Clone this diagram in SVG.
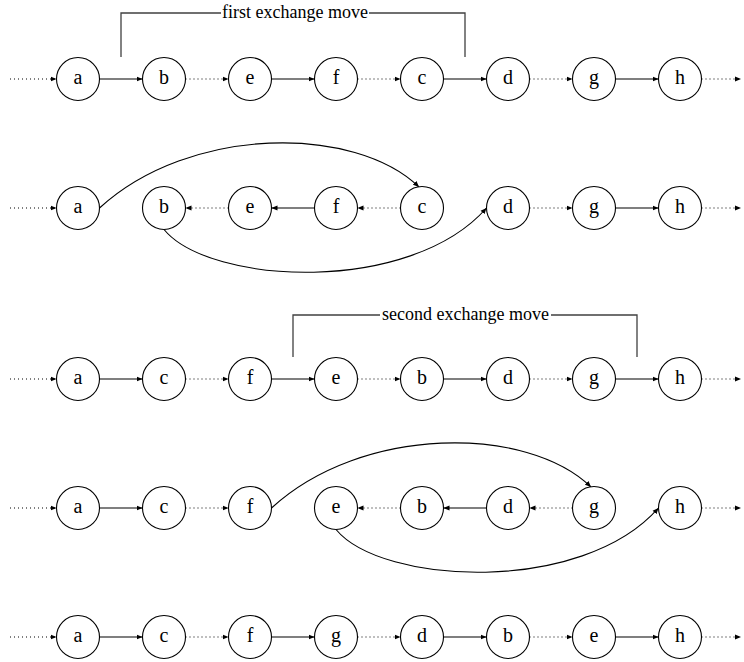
<svg xmlns="http://www.w3.org/2000/svg" width="744" height="662" viewBox="0 0 744 662">
<style>
.nd circle{fill:#fff;stroke:#000;stroke-width:1.1}
.nd text{font-family:"Liberation Serif","Times New Roman",serif;font-size:20px;text-anchor:middle;fill:#000}
.s{fill:none;stroke:#000;stroke-width:1.2;marker-end:url(#ah)}
.d{fill:none;stroke:#000;stroke-width:1.1;stroke-dasharray:1 3;marker-end:url(#ah)}
.c{fill:none;stroke:#000;stroke-width:1.1;marker-end:url(#ah)}
.br{fill:none;stroke:#404040;stroke-width:1.3}
.bt{font-family:"Liberation Serif","Times New Roman",serif;font-size:18px;text-anchor:middle;fill:#000}
</style>
<defs>
<marker id="ah" viewBox="0 0 7 6" refX="7" refY="3" markerWidth="6" markerHeight="6" markerUnits="userSpaceOnUse" orient="auto">
<path d="M0,0 L7,3 L0,6 z" fill="#000"/>
</marker>
</defs>
<rect width="744" height="662" fill="#fff"/>
<g id="brackets">
<path class="br" d="M121,57 V13 H221 M369,13 H465 V57"/>
<text class="bt" x="295" y="18">first exchange move</text>
<path class="br" d="M293,357 V315 H380 M551,315 H637 V357"/>
<text class="bt" x="465.5" y="320">second exchange move</text>
</g>
<g id="connectors">
<!-- row 1 -->
<path class="d" d="M10,79 H56.5"/>
<path class="s" d="M99.5,79 H142.5"/>
<path class="d" d="M185.5,79 H228.5"/>
<path class="s" d="M271.5,79 H314.5"/>
<path class="d" d="M357.5,79 H400.5"/>
<path class="s" d="M443.5,79 H486.5"/>
<path class="d" d="M529.5,79 H572.5"/>
<path class="s" d="M615.5,79 H658.5"/>
<path class="d" d="M701.5,79 H741"/>
<!-- row 2 -->
<path class="d" d="M10,208 H56.5"/>
<path class="d" d="M228.5,208 H185.5"/>
<path class="s" d="M314.5,208 H271.5"/>
<path class="d" d="M400.5,208 H357.5"/>
<path class="d" d="M529.5,208 H572.5"/>
<path class="s" d="M615.5,208 H658.5"/>
<path class="d" d="M701.5,208 H741"/>
<path class="c" d="M99.5,208 C190,125 355,125 419,187"/>
<path class="c" d="M164,229.5 C210,285 410,295 486.5,208"/>
<!-- row 3 -->
<path class="d" d="M10,379 H56.5"/>
<path class="s" d="M99.5,379 H142.5"/>
<path class="d" d="M185.5,379 H228.5"/>
<path class="s" d="M271.5,379 H314.5"/>
<path class="d" d="M357.5,379 H400.5"/>
<path class="s" d="M443.5,379 H486.5"/>
<path class="d" d="M529.5,379 H572.5"/>
<path class="s" d="M615.5,379 H658.5"/>
<path class="d" d="M701.5,379 H741"/>
<!-- row 4 -->
<path class="d" d="M10,508 H56.5"/>
<path class="s" d="M99.5,508 H142.5"/>
<path class="d" d="M185.5,508 H228.5"/>
<path class="d" d="M400.5,508 H357.5"/>
<path class="s" d="M486.5,508 H443.5"/>
<path class="d" d="M572.5,508 H529.5"/>
<path class="d" d="M701.5,508 H741"/>
<path class="c" d="M271.5,508 C362,425 527,425 591,487"/>
<path class="c" d="M336,529.5 C382,585 582,595 658.5,508"/>
<!-- row 5 -->
<path class="d" d="M10,637 H56.5"/>
<path class="s" d="M99.5,637 H142.5"/>
<path class="d" d="M185.5,637 H228.5"/>
<path class="s" d="M271.5,637 H314.5"/>
<path class="d" d="M357.5,637 H400.5"/>
<path class="s" d="M443.5,637 H486.5"/>
<path class="d" d="M529.5,637 H572.5"/>
<path class="s" d="M615.5,637 H658.5"/>
<path class="d" d="M701.5,637 H741"/>
</g>
<g id="row1">
<g id="r1-a" class="nd"><circle cx="78" cy="79" r="21.5"/><text x="78" y="84">a</text></g>
<g id="r1-b" class="nd"><circle cx="164" cy="79" r="21.5"/><text x="164" y="84">b</text></g>
<g id="r1-e" class="nd"><circle cx="250" cy="79" r="21.5"/><text x="250" y="84">e</text></g>
<g id="r1-f" class="nd"><circle cx="336" cy="79" r="21.5"/><text x="336" y="84">f</text></g>
<g id="r1-c" class="nd"><circle cx="422" cy="79" r="21.5"/><text x="422" y="84">c</text></g>
<g id="r1-d" class="nd"><circle cx="508" cy="79" r="21.5"/><text x="508" y="84">d</text></g>
<g id="r1-g" class="nd"><circle cx="594" cy="79" r="21.5"/><text x="594" y="84">g</text></g>
<g id="r1-h" class="nd"><circle cx="680" cy="79" r="21.5"/><text x="680" y="84">h</text></g>
</g>
<g id="row2">
<g id="r2-a" class="nd"><circle cx="78" cy="208" r="21.5"/><text x="78" y="213">a</text></g>
<g id="r2-b" class="nd"><circle cx="164" cy="208" r="21.5"/><text x="164" y="213">b</text></g>
<g id="r2-e" class="nd"><circle cx="250" cy="208" r="21.5"/><text x="250" y="213">e</text></g>
<g id="r2-f" class="nd"><circle cx="336" cy="208" r="21.5"/><text x="336" y="213">f</text></g>
<g id="r2-c" class="nd"><circle cx="422" cy="208" r="21.5"/><text x="422" y="213">c</text></g>
<g id="r2-d" class="nd"><circle cx="508" cy="208" r="21.5"/><text x="508" y="213">d</text></g>
<g id="r2-g" class="nd"><circle cx="594" cy="208" r="21.5"/><text x="594" y="213">g</text></g>
<g id="r2-h" class="nd"><circle cx="680" cy="208" r="21.5"/><text x="680" y="213">h</text></g>
</g>
<g id="row3">
<g id="r3-a" class="nd"><circle cx="78" cy="379" r="21.5"/><text x="78" y="384">a</text></g>
<g id="r3-c" class="nd"><circle cx="164" cy="379" r="21.5"/><text x="164" y="384">c</text></g>
<g id="r3-f" class="nd"><circle cx="250" cy="379" r="21.5"/><text x="250" y="384">f</text></g>
<g id="r3-e" class="nd"><circle cx="336" cy="379" r="21.5"/><text x="336" y="384">e</text></g>
<g id="r3-b" class="nd"><circle cx="422" cy="379" r="21.5"/><text x="422" y="384">b</text></g>
<g id="r3-d" class="nd"><circle cx="508" cy="379" r="21.5"/><text x="508" y="384">d</text></g>
<g id="r3-g" class="nd"><circle cx="594" cy="379" r="21.5"/><text x="594" y="384">g</text></g>
<g id="r3-h" class="nd"><circle cx="680" cy="379" r="21.5"/><text x="680" y="384">h</text></g>
</g>
<g id="row4">
<g id="r4-a" class="nd"><circle cx="78" cy="508" r="21.5"/><text x="78" y="513">a</text></g>
<g id="r4-c" class="nd"><circle cx="164" cy="508" r="21.5"/><text x="164" y="513">c</text></g>
<g id="r4-f" class="nd"><circle cx="250" cy="508" r="21.5"/><text x="250" y="513">f</text></g>
<g id="r4-e" class="nd"><circle cx="336" cy="508" r="21.5"/><text x="336" y="513">e</text></g>
<g id="r4-b" class="nd"><circle cx="422" cy="508" r="21.5"/><text x="422" y="513">b</text></g>
<g id="r4-d" class="nd"><circle cx="508" cy="508" r="21.5"/><text x="508" y="513">d</text></g>
<g id="r4-g" class="nd"><circle cx="594" cy="508" r="21.5"/><text x="594" y="513">g</text></g>
<g id="r4-h" class="nd"><circle cx="680" cy="508" r="21.5"/><text x="680" y="513">h</text></g>
</g>
<g id="row5">
<g id="r5-a" class="nd"><circle cx="78" cy="637" r="21.5"/><text x="78" y="642">a</text></g>
<g id="r5-c" class="nd"><circle cx="164" cy="637" r="21.5"/><text x="164" y="642">c</text></g>
<g id="r5-f" class="nd"><circle cx="250" cy="637" r="21.5"/><text x="250" y="642">f</text></g>
<g id="r5-g" class="nd"><circle cx="336" cy="637" r="21.5"/><text x="336" y="642">g</text></g>
<g id="r5-d" class="nd"><circle cx="422" cy="637" r="21.5"/><text x="422" y="642">d</text></g>
<g id="r5-b" class="nd"><circle cx="508" cy="637" r="21.5"/><text x="508" y="642">b</text></g>
<g id="r5-e" class="nd"><circle cx="594" cy="637" r="21.5"/><text x="594" y="642">e</text></g>
<g id="r5-h" class="nd"><circle cx="680" cy="637" r="21.5"/><text x="680" y="642">h</text></g>
</g>
</svg>
